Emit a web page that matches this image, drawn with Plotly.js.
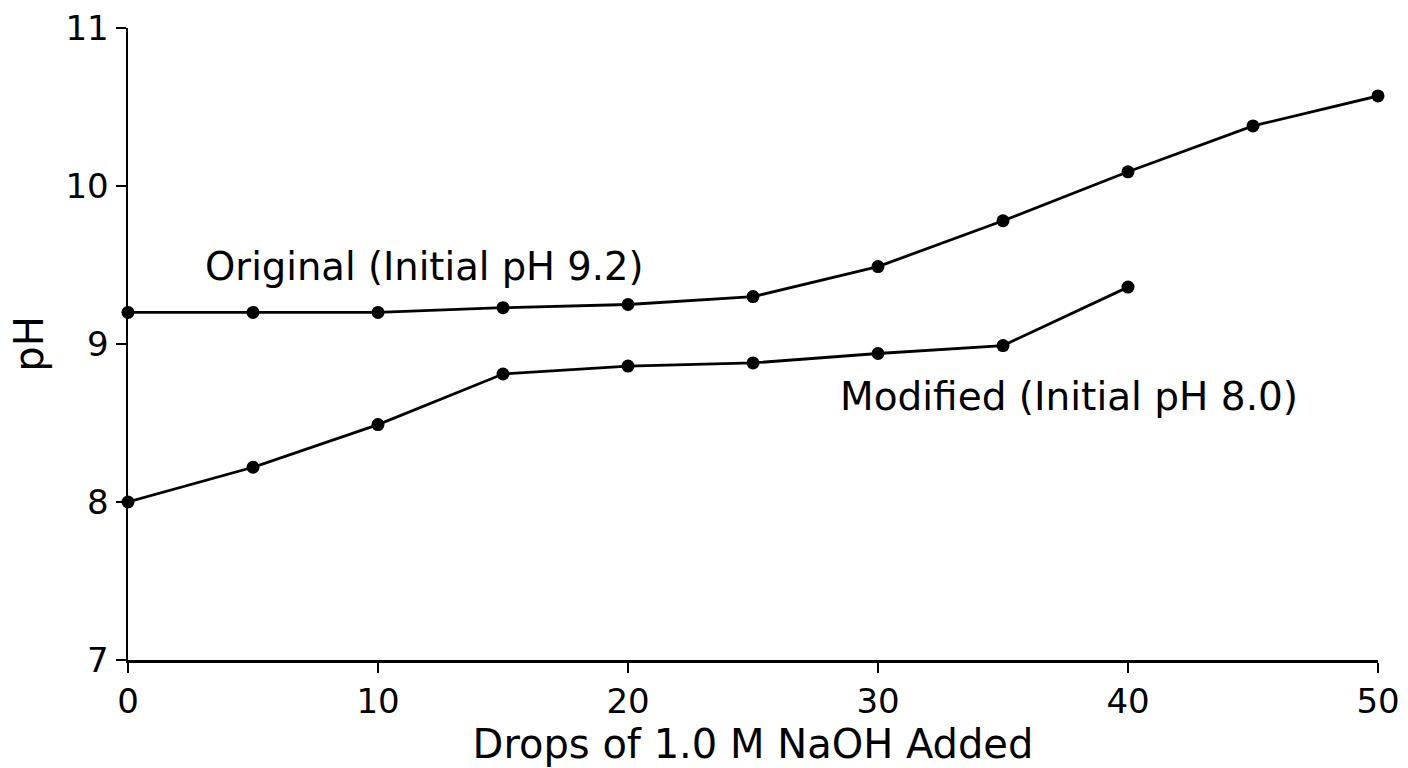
<!DOCTYPE html>
<html>
<head>
<meta charset="utf-8">
<script src="https://cdn.plot.ly/plotly-3.0.1.min.js"></script>
<style>html,body{margin:0;padding:0;background:#fff;}#chart{width:1408px;height:768px;}</style>
</head>
<body>
<div id="chart"></div>
<script>
const drops = [0, 5, 10, 15, 20, 25, 30, 35, 40, 45, 50];
const originalPH = [9.20, 9.20, 9.20, 9.23, 9.25, 9.30, 9.49, 9.78, 10.09, 10.38, 10.57];
const modifiedDrops = [0, 5, 10, 15, 20, 25, 30, 35, 40];
const modifiedPH = [8.00, 8.22, 8.49, 8.81, 8.86, 8.88, 8.94, 8.99, 9.36];
const xTicks = [0, 10, 20, 30, 40, 50];
const yTicks = [7, 8, 9, 10, 11];
const labelOriginal = "Original (Initial pH 9.2)";
const labelModified = "Modified (Initial pH 8.0)";

const FONT = "DejaVu Sans, sans-serif";
const lineStyle = {color: "#000", width: 2.8};
const markerStyle = {color: "#000", size: 13};

const traces = [
  {x: drops, y: originalPH, mode: "lines+markers", line: lineStyle, marker: markerStyle, cliponaxis: false, name: labelOriginal},
  {x: modifiedDrops, y: modifiedPH, mode: "lines+markers", line: lineStyle, marker: markerStyle, cliponaxis: false, name: labelModified}
];

const layout = {
  width: 1408, height: 768,
  margin: {l: 128, r: 30, t: 28, b: 108},
  paper_bgcolor: "#fff", plot_bgcolor: "#fff",
  showlegend: false,
  font: {family: FONT, color: "#000", size: 34},
  xaxis: {
    range: [0, 50], tickvals: xTicks, ticktext: xTicks.map(String),
    showgrid: false, zeroline: false, showline: true, linecolor: "#000", linewidth: 2.5,
    ticks: "outside", ticklen: 10, tickwidth: 2.5, tickcolor: "#000",
    tickfont: {family: FONT, size: 34, color: "#000"},
    automargin: false,
    title: {text: "Drops of 1.0 M NaOH Added", font: {family: FONT, size: 40, color: "#000"}, standoff: 6}
  },
  yaxis: {
    range: [7, 11], tickvals: yTicks, ticktext: yTicks.map(String),
    showgrid: false, zeroline: false, showline: true, linecolor: "#000", linewidth: 2.5,
    ticks: "outside", ticklen: 10, tickwidth: 2.5, tickcolor: "#000",
    tickfont: {family: FONT, size: 34, color: "#000"},
    automargin: false,
    title: {text: "pH", font: {family: FONT, size: 40, color: "#000"}, standoff: 10}
  },
  annotations: [
    {x: 3, y: 9.49, xref: "x", yref: "y", text: labelOriginal, showarrow: false, xanchor: "left", yanchor: "middle", font: {family: FONT, size: 38.5, color: "#000"}},
    {x: 28.4, y: 8.67, xref: "x", yref: "y", text: labelModified, showarrow: false, xanchor: "left", yanchor: "middle", font: {family: FONT, size: 39, color: "#000"}}
  ]
};

Plotly.newPlot("chart", traces, layout, {displayModeBar: false, staticPlot: true});
</script>
</body>
</html>
